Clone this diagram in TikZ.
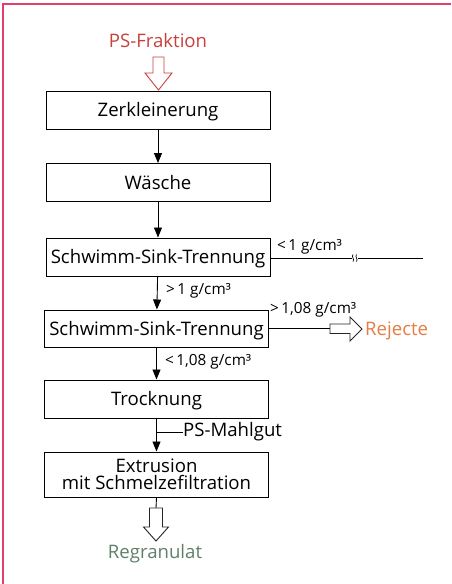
\documentclass[tikz,border=0pt]{standalone}
\usepackage{fontspec}
\setmainfont{Open Sans}
\usetikzlibrary{arrows.meta}
\definecolor{framepink}{RGB}{228,62,108}
\definecolor{psred}{RGB}{200,64,60}
\definecolor{rejorange}{RGB}{228,126,66}
\definecolor{regreen}{RGB}{94,128,104}
\tikzset{
  boxbase/.style={draw, line width=1pt, minimum width=224pt, inner sep=0pt, font=\fontsize{18.6}{17}\selectfont, align=center},
  procbox/.style={boxbase, minimum height=38pt, text height=13pt, text depth=0pt},
  flow/.style={line width=0.9pt, -{Triangle[length=10pt,width=8pt]}},
  lbl/.style={font=\fontsize{15.3}{17}\selectfont, inner sep=0pt},
  bigtxt/.style={font=\fontsize{18.6}{20}\selectfont, inner sep=0pt},
  hollow/.style={line width=0.9pt, fill=white, line join=miter},
}
\begin{document}
\begin{tikzpicture}[x=1pt,y=-1pt]
\useasboundingbox (0,0) rectangle (451,584);
% frame
\draw[framepink, line width=2pt] (3,584) -- (3,4) -- (451,4);

% boxes
\node[procbox] (b1) at (158,110) {Zerkleinerung};
\node[procbox] (b2) at (158,182.5) {Wäsche};
\node[procbox] (b3) at (158,257) {Schwimm-Sink-Trennung};
\node[procbox, minimum height=37pt] (b4) at (156.5,328.5) {Schwimm-Sink-Trennung};
\node[procbox] (b5) at (156.5,399) {Trocknung};
\node[boxbase, minimum height=45pt] (b6) at (156.5,474.5) {Extrusion\\mit Schmelzefiltration};

% input
\node[psred, bigtxt] (in) at (158,41) {PS-Fraktion};
\draw[hollow, draw=psred] (153,57) -- (164,57) -- (164,73) -- (172,73) -- (158.5,90) -- (145,73) -- (153,73) -- cycle;

% main flow
\draw[flow] (b1) -- (b2);
\draw[flow] (b2) -- (b3);
\draw[flow] (b3) -- (b4);
\draw[flow] (b4) -- (b5);
\draw[flow] (b5) -- (b6);

% labels on flow
\node[lbl, anchor=west] (l1) at (166,291) {>\,1 g/cm³};
\node[lbl, anchor=west] (l2) at (165,362) {<\,1,08 g/cm³};

% light fraction branch
\coordinate (brk1) at (352,258);
\coordinate (brk2) at (358,258);
\coordinate (lend) at (423,258);
\draw[line width=0.9pt] (b3.east |- brk1) -- (brk1);
\draw[line width=0.9pt] (brk2) -- (lend);
\draw[line width=0.7pt] (353,254.5) .. controls (351,257) and (355,259) .. (353,261.5);
\draw[line width=0.7pt] (356.5,254.5) .. controls (354.5,257) and (358.5,259) .. (356.5,261.5);
\node[lbl, anchor=west] (l3) at (277,247) {<\,1 g/cm³};

% reject branch
\coordinate (rs) at (330,328.5);
\draw[line width=0.9pt] (b4.east) -- (rs);
\draw[hollow, draw=black!85] (330,324) -- (350,324) -- (350,317) -- (362,329) -- (350,341) -- (350,333.5) -- (330,333.5) -- cycle;
\node[lbl, anchor=west] (l4) at (270,310) {>\,1,08 g/cm³};
\node[rejorange, bigtxt, anchor=west] (rej) at (365,331) {Rejecte};

% PS-Mahlgut feed
\coordinate (mj) at (156.5,432);
\node[bigtxt, anchor=west] (mahl) at (183,432) {PS-Mahlgut};
\draw[line width=0.9pt] (mj) -- (mahl.west);

% output
\coordinate (os) at (156,508);
\draw[line width=0.9pt] (b6.south) -- (os);
\draw[hollow, draw=black!85] (149.5,508) -- (162.5,508) -- (162.5,527) -- (168.5,527) -- (156,541) -- (143.5,527) -- (149.5,527) -- cycle;
\node[regreen, bigtxt] (out) at (155,554) {Regranulat};
\end{tikzpicture}
\end{document}
